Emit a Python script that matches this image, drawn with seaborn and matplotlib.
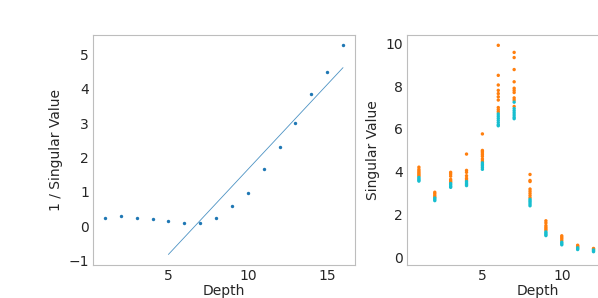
import numpy as np
import pandas as pd
import seaborn as sns
import matplotlib.pyplot as plt

# Left panel: 1 / singular value per depth, plus a linear fit
depth = list(range(1, 17))
inv_sv = [0.23, 0.31, 0.24, 0.20, 0.16, 0.09, 0.10, 0.25,
          0.58, 0.97, 1.68, 2.30, 3.02, 3.86, 4.50, 5.27]
fit_x = [5, 16]
fit_y = [-0.82, 4.62]

# Right panel: singular values per depth, two groups
orange_sv = {
    1: [4.22, 4.12, 4.05, 3.98, 3.92, 3.86, 3.80],
    2: [3.05, 2.98, 2.90, 2.83],
    3: [3.98, 3.90, 3.80, 3.65, 3.58, 3.52],
    4: [4.83, 4.07, 3.98, 3.82, 3.70, 3.62],
    5: [5.77, 5.00, 4.95, 4.88, 4.80, 4.72, 4.60, 4.50],
    6: [9.90, 8.50, 8.05, 7.80, 7.65, 7.50, 7.35, 7.00, 6.90, 6.80],
    7: [9.57, 9.33, 8.77, 8.20, 7.90, 7.80, 7.70, 7.45, 7.35, 7.05],
    8: [3.88, 3.60, 3.55, 3.20, 3.10, 3.00, 2.90, 2.80],
    9: [1.72, 1.62, 1.50, 1.42, 1.35, 1.28],
    10: [1.02, 0.95, 0.88, 0.80],
    11: [0.58, 0.54, 0.50],
    12: [0.43, 0.40],
    13: [0.30, 0.27],
    14: [0.25, 0.22],
    15: [0.21, 0.19],
    16: [0.18, 0.17],
}
cyan_sv = {
    1: [3.74, 3.68, 3.62, 3.57],
    2: [2.78, 2.72, 2.66],
    3: [3.46, 3.40, 3.33, 3.28],
    4: [3.55, 3.48, 3.42, 3.36],
    5: [4.42, 4.35, 4.28, 4.20, 4.12],
    6: [6.70, 6.60, 6.50, 6.40, 6.30, 6.20, 6.15],
    7: [7.25, 6.95, 6.85, 6.75, 6.65, 6.55, 6.48],
    8: [2.72, 2.65, 2.58, 2.50, 2.42],
    9: [1.20, 1.14, 1.08, 1.03],
    10: [0.72, 0.66, 0.60],
    11: [0.46, 0.42, 0.38],
    12: [0.36, 0.32, 0.28],
    13: [0.24, 0.22],
    14: [0.20, 0.19],
    15: [0.18, 0.17],
    16: [0.16, 0.15],
}

sns.set_style("white", {"axes.edgecolor": "#bdbdbd"})
plt.rcParams['font.family'] = ['DejaVu Sans']
plt.rcParams['font.size'] = 10

rows = []
for name, d in [("orange", orange_sv), ("cyan", cyan_sv)]:
    for k, vals in d.items():
        for v in vals:
            rows.append({"Depth": k, "Singular Value": v, "group": name})
df = pd.DataFrame(rows)

fig = plt.figure(figsize=(5.98, 2.98), dpi=100)
ax1 = fig.add_axes([0.1555, 0.111, 0.438, 0.772])
ax2 = fig.add_axes([0.6806, 0.111, 0.438, 0.772])

# left
sns.scatterplot(x=depth, y=inv_sv, ax=ax1, color="tab:blue", s=6, linewidth=0)
sns.lineplot(x=fit_x, y=fit_y, ax=ax1, color="tab:blue", linewidth=0.6, alpha=0.8)
ax1.set_xlabel("Depth", labelpad=1)
ax1.set_ylabel("1 / Singular Value")
ax1.set_xticks([5, 10, 15])

# right (axes runs past the figure edge, as in the original crop)
sns.scatterplot(data=df, x="Depth", y="Singular Value", hue="group",
                palette={"orange": "tab:orange", "cyan": "tab:cyan"},
                ax=ax2, s=6, linewidth=0, legend=False)
ax2.set_xticks([5, 10])
ax2.set_xlabel("Depth", labelpad=1)
ax2.spines['right'].set_visible(False)

for ax in (ax1, ax2):
    ax.tick_params(length=0, pad=3)
    for sp in ax.spines.values():
        sp.set_linewidth(0.8)

fig.savefig("out.png", dpi=100)
